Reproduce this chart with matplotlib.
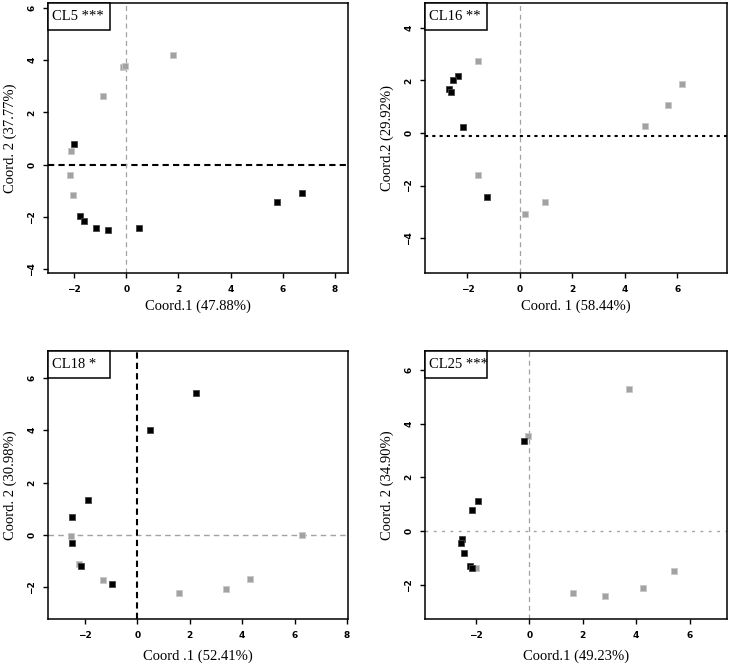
import matplotlib
matplotlib.use('Agg')
import matplotlib.pyplot as plt
from matplotlib.patches import Rectangle

# ---------- data (PCoA coordinates) ----------
# CL5
cl5_gray_x = [1.79, -0.12, -0.05, -0.89, -2.10, -2.16, -2.06]
cl5_gray_y = [4.21, 3.72, 3.78, 2.63, 0.51, -0.41, -1.17]
cl5_black_x = [-2.00, -1.78, -1.61, -1.15, -0.70, 0.50, 5.77, 6.73]
cl5_black_y = [0.78, -1.95, -2.17, -2.44, -2.49, -2.41, -1.42, -1.10]
# CL16
cl16_gray_x = [-1.58, 6.17, 5.64, 4.76, -1.61, 0.94, 0.18]
cl16_gray_y = [2.73, 1.88, 1.08, 0.25, -1.61, -2.63, -3.09]
cl16_black_x = [-2.38, -2.55, -2.69, -2.62, -2.18, -1.26]
cl16_black_y = [2.17, 2.00, 1.68, 1.56, 0.23, -2.44]
# CL18
cl18_gray_x = [-2.54, -2.21, -1.31, 1.58, 3.40, 4.29, 6.30]
cl18_gray_y = [-0.03, -1.11, -1.74, -2.23, -2.07, -1.69, 0.00]
cl18_black_x = [2.25, 0.48, -1.88, -2.51, -2.51, -2.15, -0.95]
cl18_black_y = [5.42, 4.02, 1.34, 0.70, -0.32, -1.21, -1.87]
# CL25
cl25_gray_x = [3.73, -0.03, -1.99, 1.65, 2.83, 4.26, 5.40]
cl25_gray_y = [5.29, 3.54, -1.39, -2.32, -2.42, -2.13, -1.49]
cl25_black_x = [-0.18, -1.90, -2.13, -2.51, -2.55, -2.43, -2.23, -2.15]
cl25_black_y = [3.37, 1.13, 0.78, -0.30, -0.46, -0.81, -1.29, -1.37]

titles = ['CL5 ***', 'CL16 **', 'CL18 *', 'CL25 ***']
xlabels = ['Coord.1 (47.88%)', 'Coord. 1 (58.44%)', 'Coord .1 (52.41%)', 'Coord.1 (49.23%)']
ylabels = ['Coord. 2 (37.77%)', 'Coord.2 (29.92%)', 'Coord. 2 (30.98%)', 'Coord. 2 (34.90%)']
xticks = [[-2, 0, 2, 4, 6, 8], [-2, 0, 2, 4, 6], [-2, 0, 2, 4, 6, 8], [-2, 0, 2, 4, 6]]
yticks = [[-4, -2, 0, 2, 4, 6], [-4, -2, 0, 2, 4], [-2, 0, 2, 4, 6], [-2, 0, 2, 4, 6]]

GRAY = '#a2a2a2'
SERIF = 'Liberation Serif'

fig = plt.figure(figsize=(7.29, 6.65), dpi=100)
W, H = 729, 665

# axes boxes in pixels: left, top, right, bottom
boxes = [(48, 3, 348, 273), (425, 3, 727, 273), (48, 351, 348, 619), (425, 351, 727, 619)]
xlims = [(-3.0, 8.5), (-3.62, 7.9), (-3.41, 8.04), (-3.9, 7.4)]
ylims = [(-4.15, 6.19), (-5.33, 4.95), (-3.22, 7.03), (-3.28, 6.71)]
xpads = [4, 4, 7, 7]

panels = [
    (cl5_gray_x, cl5_gray_y, cl5_black_x, cl5_black_y),
    (cl16_gray_x, cl16_gray_y, cl16_black_x, cl16_black_y),
    (cl18_gray_x, cl18_gray_y, cl18_black_x, cl18_black_y),
    (cl25_gray_x, cl25_gray_y, cl25_black_x, cl25_black_y),
]

# reference lines through the origin
hstyles = [dict(color='black', ls=(0, (3, 2)), lw=1.5),
           dict(color='black', ls=(0, (1.5, 2)), lw=1.5),
           dict(color=GRAY, ls=(0, (4, 3)), lw=1.0),
           dict(color=GRAY, ls=(0, (2, 4)), lw=1.0)]
hvals = [0, -0.1, 0, 0]
vstyles = [dict(color=GRAY, ls=(0, (4, 3)), lw=0.9),
           dict(color=GRAY, ls=(0, (4, 3)), lw=0.9),
           dict(color='black', ls=(0, (3, 2)), lw=1.5),
           dict(color=GRAY, ls=(0, (4, 3)), lw=0.9)]

for i, (l, t, r, b) in enumerate(boxes):
    ax = fig.add_axes([l / W, 1 - b / H, (r - l) / W, (b - t) / H])
    gx, gy, bx, by = panels[i]
    ax.axhline(hvals[i], **hstyles[i], zorder=1)
    ax.axvline(0, **vstyles[i], zorder=1)
    ax.plot(gx, gy, 's', color=GRAY, ms=4.3, mec='#c8c8c8', mew=0.6, zorder=2)
    ax.plot(bx, by, 's', color='black', ms=4.3, mec='#444444', mew=0.6, zorder=3)
    ax.set_xlim(*xlims[i])
    ax.set_ylim(*ylims[i])
    ax.set_xticks(xticks[i])
    ax.set_yticks(yticks[i])
    ax.tick_params(length=3.5, width=1.0, labelsize=6.5, pad=5)
    plt.setp(ax.get_yticklabels(), rotation=90, va='center', fontweight='bold')
    plt.setp(ax.get_xticklabels(), fontweight='bold')
    for s in ax.spines.values():
        s.set_linewidth(1.1)
    ax.set_xlabel(xlabels[i], family=SERIF, fontsize=10.5, labelpad=xpads[i])
    ax.set_ylabel(ylabels[i], family=SERIF, fontsize=10.5, labelpad=7)

    # legend-like label box in the top-left corner
    bw, bh = 62 / (r - l), 27 / (b - t)
    ax.add_patch(Rectangle((0, 1 - bh), bw, bh, transform=ax.transAxes,
                           fc='white', ec='black', lw=1.1, zorder=5, clip_on=False))
    ax.text(4 / (r - l), 1 - bh / 2, titles[i], transform=ax.transAxes, ha='left', va='center',
            family=SERIF, fontsize=10.5, zorder=6)

fig.savefig('out.png', dpi=100)
